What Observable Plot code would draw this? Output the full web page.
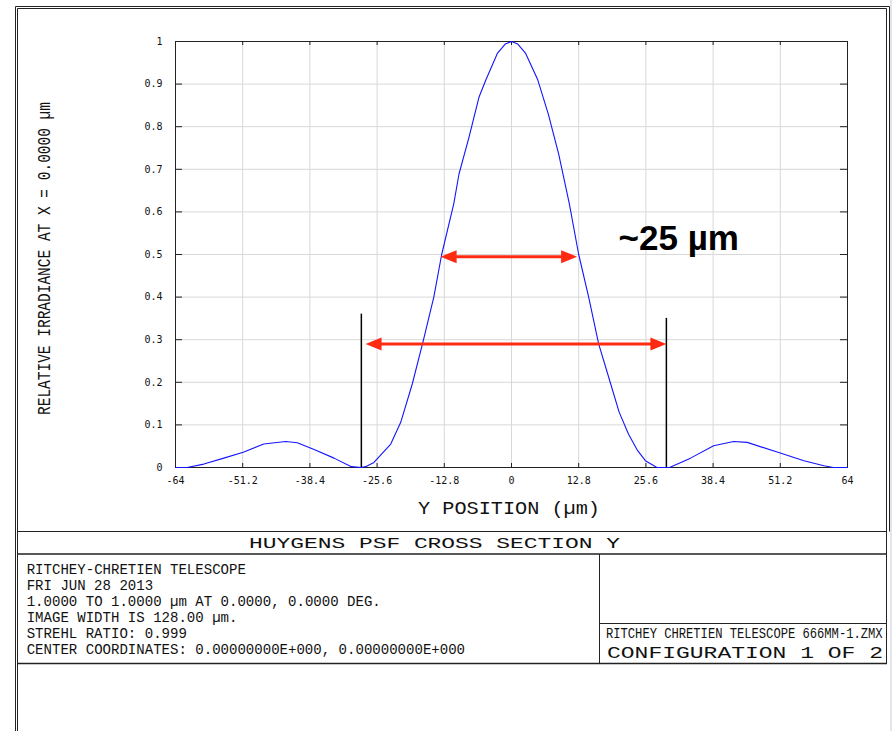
<!DOCTYPE html>
<html>
<head>
<meta charset="utf-8">
<script src="https://cdn.jsdelivr.net/npm/d3@7"></script>
<script src="https://cdn.jsdelivr.net/npm/@observablehq/plot@0.6"></script>
<style>
  html, body { margin: 0; padding: 0; background: #fff; }
  #wrap { position: relative; width: 892px; height: 731px; overflow: hidden; background: #fff; }
  #wrap svg { position: absolute; left: 0; top: 0; }
</style>
</head>
<body>
<div id="wrap"></div>
<script>
// ---- data ----
const posY = [-64, -61.8, -58.6, -54.8, -51.1, -47.2, -43.0, -40.8, -37.6, -33.8, -30.5, -28.6, -27.8, -26.2, -23.0, -21.1, -18.9, -16.8, -14.8, -13.3, -11.0, -10.0, -8.1, -6.2, -4.95, -2.7, -1.2, 0, 1.2, 2.7, 5.0, 7.0, 9.0, 11.0, 12.8, 14.7, 16.6, 18.9, 20.5, 22.3, 24.0, 25.5, 27.7, 30.1, 34.1, 38.5, 42.3, 44.9, 50.9, 55.7, 59.5, 61.3, 64];
const irradiance = [0, 0, 0.008, 0.022, 0.036, 0.055, 0.061, 0.058, 0.042, 0.022, 0.002, 0, 0.002, 0.012, 0.055, 0.106, 0.196, 0.298, 0.4, 0.5, 0.619, 0.689, 0.775, 0.869, 0.908, 0.972, 0.994, 1, 0.994, 0.972, 0.91, 0.83, 0.735, 0.62, 0.5, 0.4, 0.29, 0.196, 0.13, 0.078, 0.04, 0.016, 0, 0, 0.022, 0.051, 0.061, 0.059, 0.035, 0.016, 0.004, 0, 0];

const xTicks = [-64, -51.2, -38.4, -25.6, -12.8, 0, 12.8, 25.6, 38.4, 51.2, 64];
const yTicks = [0, 0.1, 0.2, 0.3, 0.4, 0.5, 0.6, 0.7, 0.8, 0.9, 1];

// annotations
const arrowLevel = [0.495, 0.29];
const arrowFrom = [-13.5, -27.8];
const arrowTo = [12.5, 29.5];
const markerX = [-28.6, 29.5];
const markerTop = [0.36, 0.35];
const annotationText = "~25 µm";
const annotationX = 20.4;
const annotationY = 0.538;

// texts
const yTitle = "RELATIVE IRRADIANCE AT X = 0.0000 µm";
const xTitle = "Y POSITION (µm)";
const plotTitle = "HUYGENS PSF CROSS SECTION Y";
const infoLines = [
  "RITCHEY-CHRETIEN TELESCOPE",
  "FRI JUN 28 2013",
  "1.0000 TO 1.0000 µm AT 0.0000, 0.0000 DEG.",
  "IMAGE WIDTH IS 128.00 µm.",
  "STREHL RATIO: 0.999",
  "CENTER COORDINATES: 0.00000000E+000, 0.00000000E+000"
];
const fileName = "RITCHEY CHRETIEN TELESCOPE 666MM-1.ZMX";
const configText = "CONFIGURATION 1 OF 2";

// ---- build tables ----
const curve = posY.map((y, i) => ({y, v: irradiance[i]}));
const arrows = arrowLevel.map((lv, i) => ({level: lv, from: arrowFrom[i], to: arrowTo[i]}));
const heads = arrows.flatMap(a => [{x: a.from, y: a.level, rot: 180}, {x: a.to, y: a.level, rot: 0}]);
const markers = markerX.map((x, i) => ({x, top: markerTop[i]}));

const RED = "#ff2a12";
const headSymbol = {
  draw(ctx) {
    ctx.moveTo(0, 0);
    ctx.lineTo(-16, -6.5);
    ctx.lineTo(-16, 6.5);
    ctx.closePath();
  }
};

const chart = Plot.plot({
  width: 892,
  height: 731,
  marginLeft: 175,
  marginRight: 45,
  marginTop: 41,
  marginBottom: 264,
  x: {domain: [-64, 64]},
  y: {domain: [0, 1]},
  style: {background: "transparent", fontFamily: "'DejaVu Sans Mono', monospace", fontSize: "10px", color: "#111"},
  marks: [
    Plot.gridX(xTicks, {stroke: "#d8d8d8", strokeOpacity: 1}),
    Plot.gridY(yTicks, {stroke: "#d8d8d8", strokeOpacity: 1}),
    Plot.ruleX(xTicks, {insetTop: 422, stroke: "#222"}),
    Plot.ruleX(xTicks, {insetBottom: 422, stroke: "#222"}),
    Plot.ruleY(yTicks, {insetRight: 665, stroke: "#222"}),
    Plot.ruleY(yTicks, {insetLeft: 665, stroke: "#222"}),
    Plot.frame({stroke: "#222"}),
    Plot.axisX(xTicks, {tickSize: 0, tickPadding: 9, tickFormat: d => String(d), label: null}),
    Plot.axisY(yTicks, {tickSize: 0, tickPadding: 13, tickFormat: d => String(d), label: null}),
    Plot.line(curve, {x: "y", y: "v", stroke: "#1414ff", strokeWidth: 1.1}),
    Plot.ruleX(markers, {x: "x", y1: 0, y2: "top", stroke: "#000", strokeWidth: 1.5}),
    Plot.ruleY(arrows, {y: "level", x1: "from", x2: "to", stroke: RED, strokeWidth: 3, insetLeft: 6, insetRight: 6}),
    Plot.dot(heads, {x: "x", y: "y", rotate: "rot", symbol: headSymbol, r: 8, fill: RED, stroke: null}),
    Plot.text([annotationText], {x: annotationX, y: annotationY, text: d => d, textAnchor: "start",
      fontSize: 35, fontWeight: "bold", fontFamily: "'Liberation Sans', Arial, sans-serif", fill: "#000"})
  ]
});

const wrap = document.getElementById("wrap");
wrap.appendChild(chart);

// ---- overlay: drawing frame and title block ----
const svg = d3.create("svg").attr("width", 892).attr("height", 731)
  .style("pointer-events", "none");
const line = (x1, y1, x2, y2, w = 1, c = "#222") =>
  svg.append("line").attr("x1", x1).attr("y1", y1).attr("x2", x2).attr("y2", y2)
    .attr("stroke", c).attr("stroke-width", w);

// outer double frame
line(15.5, 6.5, 889.5, 6.5);
line(17.5, 8.5, 886.5, 8.5);
line(15.5, 6.5, 15.5, 731);
line(17.5, 8.5, 17.5, 731);
line(889.5, 6.5, 889.5, 531.5);
line(886.5, 8.5, 886.5, 663.5);
// title block
line(17, 531.5, 887, 531.5);
line(17, 554, 887, 554, 1.5);
line(17, 663.5, 887, 663.5, 1.5);
line(599.5, 554, 599.5, 663.5);
line(599.5, 623.5, 887, 623.5);
svg.append("rect").attr("x", 890).attr("y", 0).attr("width", 2).attr("height", 731).attr("fill", "#e4e4ec");

const MONO = "'Liberation Mono', 'DejaVu Sans Mono', monospace";
const txt = (s, x, y, size, len, anchor = "start") =>
  svg.append("text").text(s).attr("x", x).attr("y", y)
    .attr("font-family", MONO)
    .attr("font-size", size).attr("fill", "#111")
    .attr("text-anchor", anchor)
    .attr("textLength", len).attr("lengthAdjust", "spacingAndGlyphs");

// axis titles
svg.append("text").text(yTitle)
  .attr("transform", "translate(50,258.5) rotate(-90)")
  .attr("text-anchor", "middle")
  .attr("font-family", MONO)
  .attr("font-size", 18).attr("fill", "#111")
  .attr("textLength", 313).attr("lengthAdjust", "spacingAndGlyphs");
txt(xTitle, 509, 514, 18, 182, "middle");
txt(plotTitle, 434.5, 548.3, 15, 371, "middle");

const baselines = [574, 590, 606, 622, 638, 654];
infoLines.forEach((s, i) => txt(s, 26.7, baselines[i], 14, s.length * 8.43));
// condensed file name: natural width scaled horizontally
svg.append("text").text(fileName)
  .attr("transform", "translate(606,638.3) scale(0.81,1)")
  .attr("font-family", MONO)
  .attr("font-size", 15).attr("fill", "#111");
txt(configText, 607, 657.7, 17, 276);

wrap.appendChild(svg.node());
</script>
</body>
</html>
